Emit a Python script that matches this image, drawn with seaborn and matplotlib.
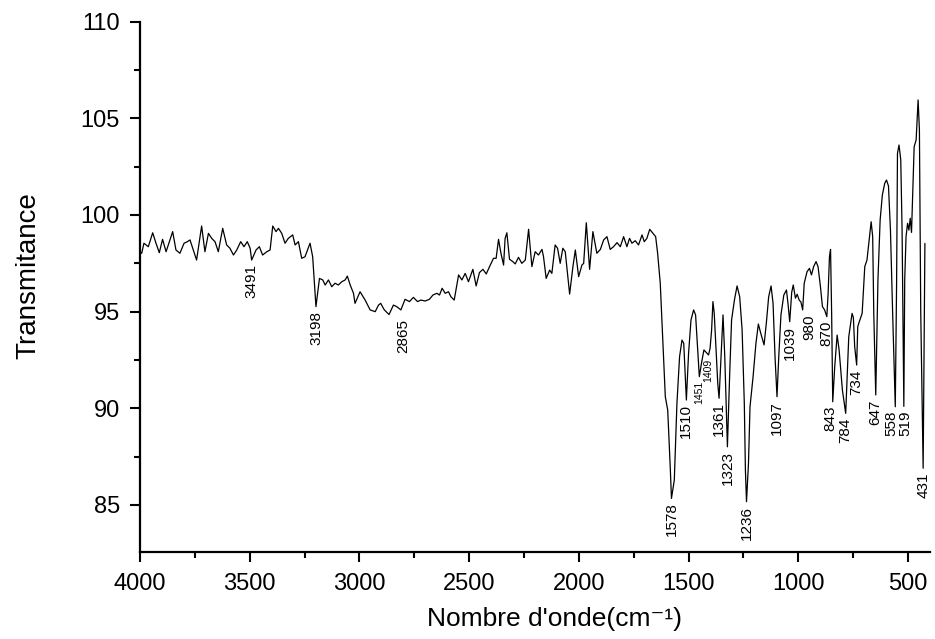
import numpy as np
import pandas as pd
import matplotlib
matplotlib.use("Agg")
import matplotlib.pyplot as plt
from matplotlib.ticker import MultipleLocator
import seaborn as sns

# FTIR spectrum: wavenumber (cm-1) and transmittance
wavenumber = [
    4000, 3992, 3982, 3962, 3942, 3927, 3912, 3897, 3881, 3866, 3851, 3836, 3818,
    3799, 3784, 3772, 3757, 3742, 3719, 3704, 3688, 3673, 3658, 3643, 3623, 3605,
    3590, 3574, 3559, 3541, 3526, 3511, 3498, 3491, 3471, 3456, 3441, 3422, 3407,
    3395, 3380, 3369, 3354, 3339, 3324, 3304, 3293, 3278, 3263, 3248, 3225, 3213,
    3198, 3182, 3167, 3156, 3141, 3126, 3111, 3096, 3080, 3065, 3055, 3042, 3027,
    3020, 2997, 2974, 2951, 2928, 2913, 2903, 2887, 2865, 2845, 2830, 2811, 2792,
    2772, 2754, 2735, 2720, 2700, 2681, 2665, 2647, 2635, 2623, 2609, 2594, 2583,
    2568, 2548, 2533, 2518, 2503, 2483, 2468, 2453, 2437, 2422, 2407, 2389, 2377,
    2366, 2355, 2343, 2336, 2328, 2316, 2301, 2290, 2275, 2260, 2244, 2229, 2214,
    2199, 2184, 2168, 2161, 2149, 2133, 2123, 2108, 2097, 2085, 2073, 2062, 2042,
    2027, 2016, 2001, 1986, 1978, 1966, 1951, 1936, 1918, 1902, 1887, 1872, 1857,
    1842, 1826, 1811, 1796, 1781, 1769, 1758, 1743, 1728, 1712, 1702, 1690, 1677,
    1662, 1650, 1641, 1629, 1614, 1606, 1595, 1583, 1578, 1565, 1553, 1541, 1530,
    1522, 1510, 1500, 1489, 1477, 1468, 1459, 1451, 1440, 1430, 1420, 1409, 1402,
    1395, 1389, 1383, 1373, 1367, 1361, 1352, 1343, 1335, 1328, 1323, 1313, 1304,
    1291, 1279, 1267, 1256, 1246, 1241, 1236, 1227, 1220, 1206, 1193, 1182, 1171,
    1156, 1145, 1135, 1124, 1115, 1106, 1097, 1089, 1079, 1066, 1054, 1047, 1039,
    1030, 1023, 1013, 1005, 996, 988, 980, 973, 960, 949, 940, 930, 919, 910, 899,
    890, 880, 870, 864, 858, 853, 848, 843, 834, 823, 814, 799, 784, 770, 755, 749,
    743, 734, 729, 722, 709, 697, 687, 668, 661, 656, 647, 637, 627, 617, 606, 598,
    589, 580, 570, 558, 552, 548, 541, 533, 527, 523, 519, 515, 509, 502, 496, 490,
    484, 478, 472, 463, 454, 448, 442, 431, 423,
]
transmittance = [
    98.10, 98.02, 98.54, 98.36, 99.08, 98.54, 98.05, 98.74, 98.10, 98.62, 99.14, 98.19, 98.02,
    98.54, 98.62, 98.71, 98.19, 97.67, 99.43, 98.10, 99.05, 98.79, 98.62, 98.10, 99.31, 98.45,
    98.28, 97.93, 98.19, 98.62, 98.36, 98.62, 98.28, 97.67, 98.19, 98.36, 97.93, 98.10, 98.19,
    99.43, 99.14, 99.31, 99.05, 98.54, 98.79, 98.97, 98.45, 98.62, 97.76, 97.84, 98.54, 97.84,
    95.26, 96.72, 96.64, 96.38, 96.64, 96.29, 96.47, 96.38, 96.55, 96.64, 96.84, 96.38, 95.95,
    95.43, 96.03, 95.60, 95.09, 95.00, 95.34, 95.43, 95.10, 94.85, 95.34, 95.26, 95.09, 95.64,
    95.52, 95.74, 95.52, 95.60, 95.55, 95.64, 95.86, 95.95, 95.86, 96.21, 95.95, 96.03, 95.77,
    95.60, 96.90, 96.64, 96.98, 96.55, 97.19, 96.33, 97.02, 97.19, 96.95, 97.33, 97.76, 97.76,
    98.74, 98.02, 97.41, 98.79, 99.08, 97.71, 97.59, 97.47, 97.81, 97.50, 97.67, 99.26, 97.33,
    98.10, 97.93, 98.22, 97.84, 96.72, 97.15, 96.98, 98.45, 98.28, 97.50, 98.28, 98.10, 95.91,
    97.33, 98.19, 96.81, 97.41, 97.50, 99.60, 97.19, 99.14, 98.02, 98.22, 98.71, 98.88, 98.22,
    98.36, 98.57, 98.36, 98.88, 98.36, 98.79, 98.54, 98.67, 98.45, 98.97, 98.62, 98.79, 99.26,
    99.05, 98.88, 98.02, 96.47, 92.67, 90.60, 89.91, 86.81, 85.34, 86.29, 90.26, 92.67, 93.53,
    93.36, 90.43, 92.84, 94.57, 95.09, 94.83, 93.19, 91.64, 92.41, 93.02, 92.90, 92.76, 93.10,
    94.05, 95.52, 94.91, 92.67, 91.29, 90.52, 92.67, 94.83, 92.67, 89.91, 88.01, 91.64, 94.57,
    95.60, 96.33, 95.77, 94.05, 90.26, 86.81, 85.17, 87.15, 90.08, 91.64, 93.36, 94.36, 93.88,
    93.28, 94.48, 95.77, 96.33, 95.43, 92.67, 90.60, 92.67, 94.83, 95.86, 96.12, 95.43, 94.48,
    96.00, 96.38, 95.70, 95.90, 95.60, 95.50, 95.09, 96.47, 97.07, 97.24, 96.90, 97.33, 97.59, 97.33, 96.29,
    95.26, 95.09, 94.74, 95.95, 97.84, 98.22, 94.91, 90.34, 92.15, 93.79, 93.02, 90.95, 89.74, 93.70, 94.91, 94.70,
    93.19, 92.24, 94.22, 94.48, 94.91, 97.33, 97.67, 99.65, 98.88, 94.91, 90.69, 96.64, 99.74, 101.03, 101.64, 101.81,
    101.50, 99.22, 94.91, 90.08, 96.50, 103.19, 103.62, 102.85, 99.22, 94.91, 90.10, 96.64, 98.88, 99.57, 99.22, 99.83,
    99.10, 101.29, 103.53, 103.88, 105.95, 104.40, 95.00, 86.90, 98.53,
]

# Band positions marked on the spectrum
band_labels = [3491, 3198, 2865, 1578, 1510, 1451, 1409, 1361, 1323, 1236,
               1097, 1039, 980, 870, 843, 784, 734, 647, 558, 519, 431]
small_bands = [1451, 1409]
x_ticks = [4000, 3500, 3000, 2500, 2000, 1500, 1000, 500]
y_ticks = [85, 90, 95, 100, 105, 110]

df = pd.DataFrame({"wavenumber": wavenumber, "transmittance": transmittance})

sns.set_style("ticks")
plt.rcParams["font.family"] = ["Liberation Sans", "DejaVu Sans"]
plt.rcParams["text.color"] = "black"
plt.rcParams["axes.labelcolor"] = "black"
plt.rcParams["xtick.color"] = "black"
plt.rcParams["ytick.color"] = "black"

fig = plt.figure(figsize=(9.35, 6.39), dpi=100)
ax = fig.add_axes([0.1497, 0.1362, 0.8449, 0.8299])

sns.lineplot(data=df, x="wavenumber", y="transmittance", sort=False,
             color="black", linewidth=0.9, ax=ax)

ax.set_xlim(4000, 400)
ax.set_ylim(82.57, 110)
ax.set_xticks(x_ticks)
ax.set_yticks(y_ticks)
ax.xaxis.set_minor_locator(MultipleLocator(250))
ax.yaxis.set_minor_locator(MultipleLocator(2.5))
ax.tick_params(axis="both", which="major", direction="out", length=7.5, width=1.5,
               labelsize=17, color="black", labelcolor="black")
ax.tick_params(axis="x", which="major", pad=7.5)
ax.tick_params(axis="y", which="major", pad=7)
ax.tick_params(axis="both", which="minor", direction="out", length=4.3, width=1.5,
               color="black")
sns.despine(ax=ax)
for side in ("left", "bottom"):
    ax.spines[side].set_linewidth(1.6)
    ax.spines[side].set_color("black")

ax.set_xlabel("Nombre d'onde(cm\u207b\u00b9)", fontsize=19, color="black")
ax.set_ylabel("Transmitance", fontsize=20, color="black")
ax.xaxis.set_label_coords(0.525, -0.104)
ax.yaxis.set_label_coords(-0.125, 0.522)

wn_asc = np.array(wavenumber[::-1], dtype=float)
tr_asc = np.array(transmittance[::-1], dtype=float)
x_shift = {2865: 10, 558: -3, 519: 0.8, 980: 5, 843: -2}
for band in band_labels:
    t_val = float(np.interp(band, wn_asc, tr_asc))
    ax.annotate(str(band), xy=(band, t_val),
                xytext=(x_shift.get(band, 0), -3), textcoords="offset points",
                rotation=90, ha="center", va="top",
                fontsize=7.5 if band in small_bands else 11, color="black")

fig.savefig("out.png", dpi=100)
